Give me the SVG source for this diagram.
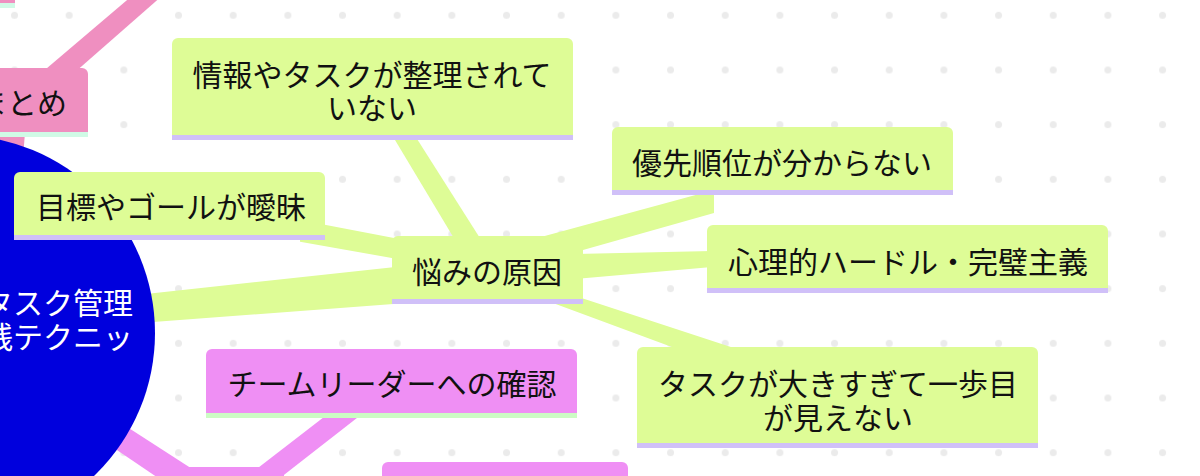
<svg xmlns="http://www.w3.org/2000/svg" width="1200" height="476" viewBox="0 0 1200 476">
<style>
.t{font-family:"Noto Sans CJK JP","Noto Sans",sans-serif;font-size:30px;fill:#111;text-anchor:middle}
.tw{font-family:"Noto Sans CJK JP","Noto Sans",sans-serif;font-size:30px;fill:#fff;text-anchor:end}
.lime{fill:#defc96}
.lb{fill:#d0c0f8}
.pink{fill:#ef8fc0}
.mint{fill:#d0fae6}
.mag{fill:#ef8ff4}
.gr{fill:#ccfcc4}
</style>
<defs>
<pattern id="dots" patternUnits="userSpaceOnUse" x="-12.83" y="-12.03" width="54.67" height="54.67">
<circle cx="27.33" cy="27.33" r="3.5" fill="#ebebeb"/>
</pattern>
</defs>
<rect width="1200" height="476" fill="#fff"/>
<rect width="1200" height="476" fill="url(#dots)"/>
<g id="connectors">
<polygon class="lime" points="100,299 400,266.5 400,303.5 100,326"/>
<polygon class="lime" points="300,220 420,243 420,263 300,241.7"/>
<polygon class="lime" points="383,120 405,120 487.5,250 461,250"/>
<polygon class="lime" points="530,240 714,190 714,213 583,250"/>
<polygon class="lime" points="575,254 712,251 712,267 575,279"/>
<polygon class="lime" points="560,290 583,298.5 740,350 680,350 555,303.7 540,298"/>
<polygon class="mag" points="90,403 200,474 170,486 80,425"/>
<polygon class="mag" points="346,400 380,400 280,478 245,478"/>
<polygon class="pink" points="33,80 66,80 163,-5 133,-5"/>
<polygon class="pink" points="-5,120 26,120 22,170 -5,170"/>
</g>
<g id="hub">
<circle cx="-43" cy="333" r="198" fill="#0000dd"/>
<text class="tw" x="133" y="314">タスク管理</text>
<text class="tw" x="133" y="348">実践テクニッ</text>
</g>
<g id="n-top-left">
<path class="pink" d="M-100,-54 a6,6 0 0 1 6,-6 h103 a6,6 0 0 1 6,6 V3 H-100 Z"/>
<rect class="mint" x="-100" y="3" width="115" height="5"/>
</g>
<g id="n-matome">
<path class="pink" d="M-10,74 a6,6 0 0 1 6,-6 h86 a6,6 0 0 1 6,6 V132 H-10 Z"/>
<rect class="mint" x="-10" y="132" width="98" height="5"/>
<text class="t" x="67" y="114" style="text-anchor:end">まとめ</text>
</g>
<g id="n-joho">
<path class="lime" d="M172,44 a6,6 0 0 1 6,-6 h389 a6,6 0 0 1 6,6 V135 H172 Z"/>
<rect class="lb" x="172" y="135" width="401" height="5"/>
<text class="t" x="372" y="86">情報やタスクが整理されて</text>
<text class="t" x="372" y="119">いない</text>
</g>
<g id="n-mokuhyo">
<path class="lime" d="M14,178 a6,6 0 0 1 6,-6 h299 a6,6 0 0 1 6,6 V235 H14 Z"/>
<rect class="lb" x="14" y="235" width="311" height="5"/>
<text class="t" x="171" y="218">目標やゴールが曖昧</text>
</g>
<g id="n-nayami">
<path class="lime" d="M392,242 a6,6 0 0 1 6,-6 h179 a6,6 0 0 1 6,6 V299 H392 Z"/>
<rect class="lb" x="392" y="299" width="191" height="5"/>
<text class="t" x="487" y="283">悩みの原因</text>
</g>
<g id="n-yusen">
<path class="lime" d="M612,133 a6,6 0 0 1 6,-6 h329 a6,6 0 0 1 6,6 V190 H612 Z"/>
<rect class="lb" x="612" y="190" width="341" height="5"/>
<text class="t" x="782" y="174">優先順位が分からない</text>
</g>
<g id="n-shinri">
<path class="lime" d="M707,231 a6,6 0 0 1 6,-6 h389 a6,6 0 0 1 6,6 V288 H707 Z"/>
<rect class="lb" x="707" y="288" width="401" height="5"/>
<text class="t" x="908" y="273">心理的ハードル・完璧主義</text>
</g>
<g id="n-task">
<path class="lime" d="M637,353 a6,6 0 0 1 6,-6 h389 a6,6 0 0 1 6,6 V443 H637 Z"/>
<rect class="lb" x="637" y="443" width="401" height="5"/>
<text class="t" x="838" y="395">タスクが大きすぎて一歩目</text>
<text class="t" x="838" y="429">が見えない</text>
</g>
<g id="n-team">
<path class="mag" d="M206,355 a6,6 0 0 1 6,-6 h359 a6,6 0 0 1 6,6 V413 H206 Z"/>
<rect class="gr" x="206" y="413" width="371" height="5"/>
<text class="t" x="392" y="395">チームリーダーへの確認</text>
</g>
<g id="n-bottom-1">
<path class="mag" d="M160,473 a6,6 0 0 1 6,-6 h112 a6,6 0 0 1 6,6 V530 H160 Z"/>
</g>
<g id="n-bottom-2">
<path class="mag" d="M382,468 a6,6 0 0 1 6,-6 h234 a6,6 0 0 1 6,6 V530 H382 Z"/>
</g>
</svg>
